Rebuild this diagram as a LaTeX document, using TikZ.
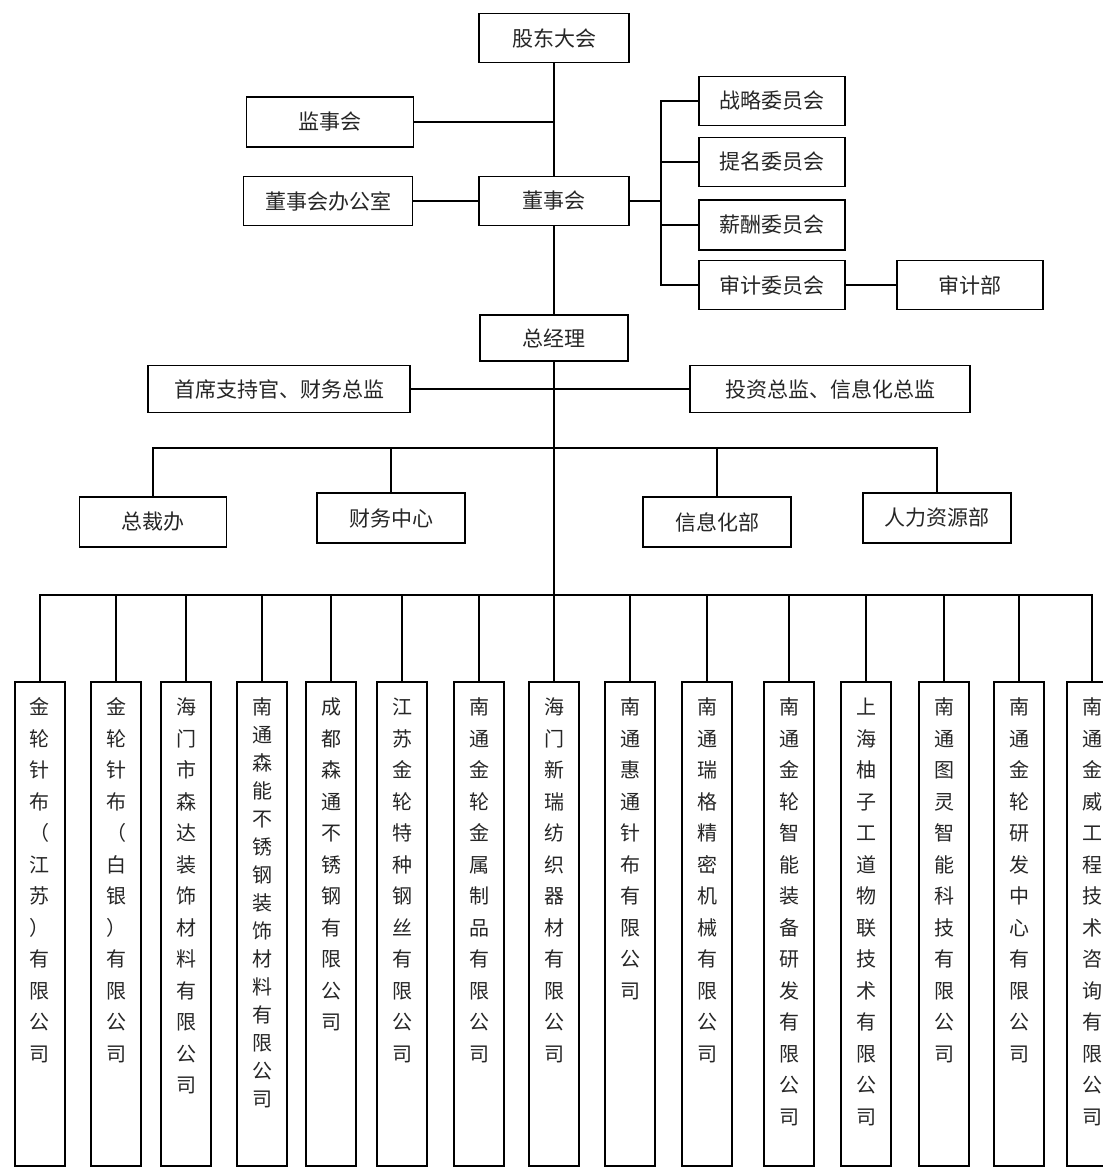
\documentclass[tikz,border=0pt]{standalone}
\usepackage{fontspec}
\newfontfamily\cjk{Noto Sans CJK SC}
\makeatletter
\newcommand\colchars[1]{\expandafter\colcharsi\expandafter{#1}}
\newcommand\colcharsi[1]{\@tfor\@ch:=#1\do{\@ch\par}}
\makeatother
% one company box: text stacked from the top
\newcommand\comptext[2]{\parbox[c][484pt][t]{50pt}{\centering\setlength\baselineskip{#1}\vspace*{16pt}\colchars{#2}}}
\tikzset{
  org/.style={draw, line width=1.6pt, inner sep=0pt, font=\cjk\fontsize{21pt}{24pt}\selectfont, text=black!85},
  comp/.style={draw, line width=1.6pt, inner sep=0pt, font=\cjk\fontsize{20pt}{31.5pt}\selectfont, text=black!85},
  link/.style={line width=1.2pt}
}
\begin{document}
\begin{tikzpicture}[x=1pt,y=-1pt]
  \useasboundingbox[fill=white] (0,0) rectangle (1103,1171);

  % top level
  \node[org, minimum width=150pt, minimum height=49pt] (gd) at (554,38) {股东大会};
  \node[org, minimum width=167pt, minimum height=50pt] (jsh) at (330,122) {监事会};
  \node[org, minimum width=169pt, minimum height=49pt] (dsb) at (328,201) {董事会办公室};
  \node[org, minimum width=150pt, minimum height=49pt] (dsh) at (554,201) {董事会};

  % committees
  \node[org, minimum width=146pt, minimum height=49pt] (zl) at (772,101) {战略委员会};
  \node[org, minimum width=146pt, minimum height=49pt] (tm) at (772,162) {提名委员会};
  \node[org, minimum width=146pt, minimum height=50pt] (xc) at (772,225) {薪酬委员会};
  \node[org, minimum width=146pt, minimum height=49pt] (sj) at (772,285) {审计委员会};
  \node[org, minimum width=146pt, minimum height=49pt] (sjb) at (970,285) {审计部};

  % management
  \node[org, minimum width=148pt, minimum height=46pt] (zjl) at (554,338) {总经理};
  \node[org, minimum width=262pt, minimum height=47pt] (sx) at (279,389) {首席支持官、财务总监};
  \node[org, minimum width=280pt, minimum height=47pt] (tz) at (830,389) {投资总监、信息化总监};

  % departments
  \node[org, minimum width=147pt, minimum height=50pt] (zcb) at (153,522) {总裁办};
  \node[org, minimum width=148pt, minimum height=50pt] (cw) at (391,518) {财务中心};
  \node[org, minimum width=148pt, minimum height=50pt] (xx) at (717,522) {信息化部};
  \node[org, minimum width=148pt, minimum height=50pt] (rl) at (937,518) {人力资源部};

  % subsidiaries
  \foreach \i/\x/\sp/\name in {
      1/40/31.5pt/金轮针布（江苏）有限公司,
      2/116/31.5pt/金轮针布（白银）有限公司,
      3/186/31.5pt/海门市森达装饰材料有限公司,
      4/262/28pt/南通森能不锈钢装饰材料有限公司,
      5/331/31.5pt/成都森通不锈钢有限公司,
      6/402/31.5pt/江苏金轮特种钢丝有限公司,
      7/479/31.5pt/南通金轮金属制品有限公司,
      8/554/31.5pt/海门新瑞纺织器材有限公司,
      9/630/31.5pt/南通惠通针布有限公司,
      10/707/31.5pt/南通瑞格精密机械有限公司,
      11/789/31.5pt/南通金轮智能装备研发有限公司,
      12/866/31.5pt/上海柚子工道物联技术有限公司,
      13/944/31.5pt/南通图灵智能科技有限公司,
      14/1019/31.5pt/南通金轮研发中心有限公司,
      15/1092/31.5pt/南通金威工程技术咨询有限公司}
    \node[comp] (c\i) at (\x,924) {\comptext{\sp}{\name}};

  \coordinate (brk) at (661,0);
  \coordinate (busB) at (0,448);
  \coordinate (busA) at (0,595);

  \draw[link] (gd.south) -- (dsh.north);
  \draw[link] (jsh.east) -- (jsh.east -| gd.south);
  \draw[link] (dsb.east) -- (dsh.west);
  \draw[link] (dsh.south) -- (zjl.north);

  \draw[link] (dsh.east) -- (dsh.east -| brk);
  \draw[link] (zl.west) -| (brk |- sj.west) -- (sj.west);
  \draw[link] (tm.west) -- (tm.west -| brk);
  \draw[link] (xc.west) -- (xc.west -| brk);
  \draw[link] (sj.east) -- (sjb.west);

  \draw[link] (sx.east) -- (tz.west);
  \draw[link] (zjl.south) -- (zjl.south |- busA);

  \draw[link] (zcb.north) |- (rl.north |- busB) -- (rl.north);
  \foreach \n in {cw, xx}
    \draw[link] (\n.north) -- (\n.north |- busB);

  \draw[link] (c1.north) |- (c15.north |- busA) -- (c15.north);
  \foreach \i in {2,...,14}
    \draw[link] (c\i.north) -- (c\i.north |- busA);
\end{tikzpicture}
\end{document}
